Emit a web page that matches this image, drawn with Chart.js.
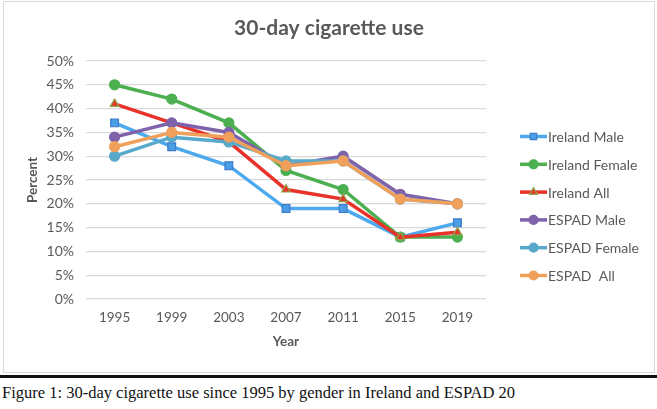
<!DOCTYPE html>
<html>
<head>
<meta charset="utf-8">
<script src="https://cdn.jsdelivr.net/npm/chart.js@4"></script>
<style>
    body { margin: 0; background: #fff; width: 657px; height: 409px; overflow: hidden; position: relative; }
    #box { position: absolute; left: 3px; top: 1px; width: 650px; height: 370px; border: 1px solid #d9d9d9; }
    #rule { position: absolute; left: 0; top: 375px; width: 657px; height: 3px; background: #111; }
    #caption { position: absolute; left: 2px; top: 383px; font: 16.5px "Liberation Serif", "Times New Roman", serif; color: #111; white-space: nowrap; }
</style>
</head>
<body>
<div id="box"><canvas id="chart"></canvas></div>
<div id="rule"></div>
<div id="caption">Figure 1: 30-day cigarette use since 1995 by gender in Ireland and ESPAD 20</div>
<script>
const years = ['1995', '1999', '2003', '2007', '2011', '2015', '2019'];
const seriesNames = ['Ireland Male', 'Ireland Female', 'Ireland All', 'ESPAD Male', 'ESPAD Female', 'ESPAD  All'];
const irelandMale = [37, 32, 28, 19, 19, 13, 16];
const irelandFemale = [45, 42, 37, 27, 23, 13, 13];
const irelandAll = [41, 37, 33, 23, 21, 13, 14];
const espadMale = [34, 37, 35, 28, 30, 22, 20];
const espadFemale = [30, 34, 33, 29, 29, 21, 20];
const espadAll = [32, 35, 34, 28, 29, 21, 20];

const lineColors = ['#4DA9EE', '#4CAF50', '#E8322A', '#7E62AA', '#58A9CA', '#F0A05A'];
const markerFill = ['#4A9EE6', '#4CAF50', '#E8322A', '#7E62AA', '#58A9CA', '#F0A05A'];
const markerBorder = ['#3E7CC8', '#4CAF50', '#8FA84A', '#7E62AA', '#58A9CA', '#F0A05A'];
const markerStyle = ['rect', 'circle', 'triangle', 'circle', 'circle', 'circle'];
const values = [irelandMale, irelandFemale, irelandAll, espadMale, espadFemale, espadAll];

const FONT = 'Lato, "Open Sans", sans-serif';
const TITLE = '30-day cigarette use';

// title centred over the whole box, legend drawn like Excel (line with marker)
const excelBits = {
    id: 'excelBits',
    afterDraw(chart) {
        const ctx = chart.ctx;
        ctx.save();
        ctx.fillStyle = '#595959';
        ctx.font = 'bold 21px ' + FONT;
        ctx.textAlign = 'center';
        ctx.textBaseline = 'middle';
        ctx.fillText(TITLE, chart.width / 2, 26.5);
        ctx.restore();

        chart.data.datasets.forEach((ds, i) => {
            const y = 134.5 + i * 27.8;
            ctx.save();
            ctx.strokeStyle = ds.borderColor;
            ctx.lineWidth = 3.5;
            ctx.beginPath();
            ctx.moveTo(516, y);
            ctx.lineTo(543, y);
            ctx.stroke();
            ctx.fillStyle = ds.pointBackgroundColor;
            ctx.strokeStyle = ds.pointBorderColor;
            ctx.lineWidth = 1.2;
            Chart.helpers.drawPoint(ctx, {
                pointStyle: ds.pointStyle, radius: 4.5, borderWidth: 1.2, rotation: 0
            }, 529.5, y);
            ctx.fillStyle = '#595959';
            ctx.font = '14px ' + FONT;
            ctx.textBaseline = 'middle';
            ctx.fillText(ds.label, 544, y + 1);
            ctx.restore();
        });
    }
};

const datasets = seriesNames.map((name, i) => ({
    label: name,
    data: values[i],
    borderColor: lineColors[i],
    backgroundColor: lineColors[i],
    borderWidth: 3.5,
    pointStyle: markerStyle[i],
    pointRadius: markerStyle[i] === 'rect' ? 5.5 : 5,
    pointBackgroundColor: markerFill[i],
    pointBorderColor: markerBorder[i],
    pointBorderWidth: 1.2,
    tension: 0,
    order: seriesNames.length - i
}));

new Chart(document.getElementById('chart'), {
    type: 'line',
    data: { labels: years, datasets: datasets },
    options: {
        responsive: true,
        maintainAspectRatio: false,
        animation: false,
        layout: { padding: { left: 21, right: 168, top: 59, bottom: 21 } },
        scales: {
            y: {
                min: 0,
                max: 50,
                ticks: {
                    stepSize: 5,
                    color: '#595959',
                    font: { family: FONT, size: 14 },
                    padding: 12,
                    callback: v => v + '%'
                },
                grid: { color: '#d9d9d9', lineWidth: 1.2, drawTicks: false },
                border: { display: false },
                title: {
                    display: true,
                    text: 'Percent',
                    color: '#595959',
                    font: { family: FONT, size: 13.5, weight: 'bold' },
                    padding: { top: 0, bottom: 0 }
                },
                afterFit(scale) { scale.width = 61; }
            },
            x: {
                offset: true,
                ticks: {
                    color: '#595959',
                    font: { family: FONT, size: 13.5 },
                    padding: 11
                },
                grid: { display: false, drawTicks: false },
                border: { display: false },
                title: {
                    display: true,
                    text: 'Year',
                    color: '#595959',
                    font: { family: FONT, size: 13.5, weight: 'bold' },
                    padding: { top: 0, bottom: 1 }
                },
                afterFit(scale) { scale.height = 52; }
            }
        },
        plugins: {
            legend: { display: false },
            tooltip: { enabled: false },
            title: { display: false }
        }
    },
    plugins: [excelBits]
});
</script>
</body>
</html>
